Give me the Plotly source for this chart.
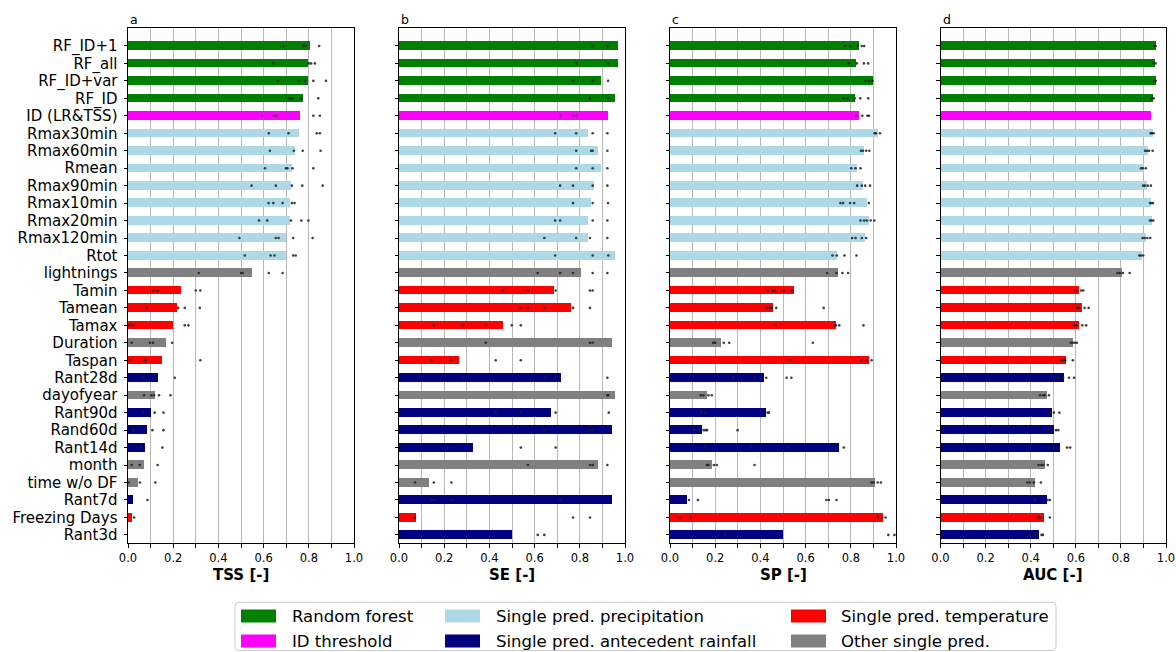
import plotly.graph_objects as go

categories = ["RF_ID+1", "RF_all", "RF_ID+var", "RF_ID", "ID (LR&TSS)", "Rmax30min", "Rmax60min",
              "Rmean", "Rmax90min", "Rmax10min", "Rmax20min", "Rmax120min", "Rtot", "lightnings",
              "Tamin", "Tamean", "Tamax", "Duration", "Taspan", "Rant28d", "dayofyear", "Rant90d",
              "Rand60d", "Rant14d", "month", "time w/o DF", "Rant7d", "Freezing Days", "Rant3d"]
groups = ["rf"] * 4 + ["id"] + ["prec"] * 8 + ["other", "temp", "temp", "temp", "other", "temp", "ante",
                                                "other", "ante", "ante", "ante", "other", "other", "ante",
                                                "temp", "ante"]
group_colors = {"rf": "#008000", "id": "#ff00ff", "prec": "#add8e6",
                "ante": "#000080", "temp": "#ff0000", "other": "#808080"}

tss = [0.805, 0.795, 0.795, 0.773, 0.762, 0.756, 0.740, 0.725, 0.722, 0.719, 0.715, 0.700, 0.697, 0.547,
       0.236, 0.219, 0.198, 0.167, 0.151, 0.131, 0.121, 0.100, 0.083, 0.075, 0.069, 0.043, 0.021, 0.016, 0.0]
se = [0.969, 0.969, 0.895, 0.954, 0.925, 0.835, 0.880, 0.895, 0.864, 0.849, 0.835, 0.835, 0.954, 0.805,
      0.687, 0.759, 0.462, 0.941, 0.267, 0.715, 0.954, 0.671, 0.941, 0.326, 0.880, 0.133, 0.941, 0.074, 0.499]
sp = [0.836, 0.825, 0.899, 0.817, 0.836, 0.919, 0.859, 0.827, 0.855, 0.870, 0.879, 0.865, 0.741, 0.743,
      0.549, 0.457, 0.734, 0.226, 0.880, 0.414, 0.164, 0.426, 0.142, 0.746, 0.188, 0.908, 0.077, 0.941, 0.499]
auc = [0.953, 0.951, 0.954, 0.942, 0.933, 0.938, 0.919, 0.899, 0.914, 0.933, 0.936, 0.910, 0.893, 0.803,
       0.611, 0.624, 0.612, 0.587, 0.553, 0.547, 0.469, 0.494, 0.499, 0.527, 0.460, 0.417, 0.469, 0.457, 0.435]

# individual (per-fold) results shown as small dots
tss_dots = [[0.688, 0.775, 0.785, 0.846], [0.643, 0.80, 0.81, 0.827], [0.662, 0.756, 0.784, 0.82, 0.876],
            [0.716, 0.728, 0.768, 0.842], [0.592, 0.645, 0.657, 0.82, 0.849], [0.623, 0.71, 0.835, 0.849],
            [0.628, 0.734, 0.773, 0.852], [0.606, 0.699, 0.705, 0.728, 0.82], [0.547, 0.654, 0.725, 0.771, 0.861],
            [0.622, 0.643, 0.684, 0.725, 0.737], [0.58, 0.616, 0.721, 0.767, 0.798],
            [0.493, 0.654, 0.666, 0.731, 0.817], [0.517, 0.631, 0.648, 0.731, 0.742],
            [0.313, 0.501, 0.507, 0.623, 0.684], [0.112, 0.129, 0.30, 0.32], [0.083, 0.222, 0.251, 0.318],
            [0.007, 0.021, 0.251, 0.267], [0.016, 0.097, 0.111, 0.195], [0.012, 0.071, 0.077, 0.32],
            [0.071, 0.207], [0.071, 0.103, 0.115, 0.137, 0.188], [0.069, 0.118, 0.157], [0.024, 0.108, 0.157],
            [0.058, 0.152], [0.016, 0.052, 0.131], [0.003, 0.053, 0.121], [0.086], [0.027], []]
se_dots = [[0.857, 0.922], [0.784, 0.925], [0.77, 0.857, 0.925], [0.845, 0.926], [0.713, 0.77, 0.784],
           [0.691, 0.784, 0.857, 0.922], [0.784, 0.85, 0.857, 0.922], [0.784, 0.857, 0.922],
           [0.713, 0.77, 0.857, 0.922], [0.77, 0.857, 0.925], [0.691, 0.713, 0.857, 0.922],
           [0.643, 0.784, 0.845, 0.922], [0.691, 0.857, 0.926], [0.614, 0.713, 0.77, 0.857, 0.922],
           [0.461, 0.570, 0.693, 0.845, 0.857], [0.539, 0.570, 0.643, 0.77, 0.845],
           [0.154, 0.284, 0.384, 0.499, 0.539], [0.384, 0.845, 0.857], [0.143, 0.232, 0.428, 0.539],
           [0.284, 0.643, 0.693, 0.922], [0.922, 0.926], [0.428, 0.539, 0.693, 0.928], [0.643, 0.845, 0.857],
           [0.214, 0.539, 0.693], [0.570, 0.845, 0.857, 0.922], [0.071, 0.154, 0.232],
           [0.143, 0.154, 0.232, 0.713], [0.071, 0.77, 0.845], [0.614, 0.643]]
sp_dots = [[0.774, 0.80, 0.831, 0.848, 0.859], [0.79, 0.827, 0.858, 0.877], [0.865, 0.880, 0.896],
           [0.768, 0.787, 0.817, 0.842, 0.877], [0.821, 0.851, 0.874, 0.880], [0.905, 0.911, 0.929],
           [0.845, 0.854, 0.868, 0.882], [0.802, 0.821, 0.843], [0.828, 0.849, 0.864, 0.885],
           [0.754, 0.766, 0.797, 0.815, 0.880], [0.843, 0.859, 0.871, 0.888, 0.904],
           [0.806, 0.821, 0.849, 0.868], [0.719, 0.738, 0.772, 0.825], [0.695, 0.737, 0.763, 0.788],
           [0.433, 0.454, 0.463, 0.503, 0.540], [0.430, 0.442, 0.450, 0.470, 0.680],
           [0.466, 0.726, 0.734, 0.749, 0.856], [0.191, 0.200, 0.238, 0.262, 0.632],
           [0.530, 0.846, 0.870, 0.892], [0.281, 0.377, 0.426, 0.516, 0.537], [0.136, 0.148, 0.170, 0.185],
           [0.139, 0.157, 0.432, 0.438], [0.108, 0.149, 0.157, 0.164, 0.299], [0.152, 0.361, 0.524, 0.769],
           [0.163, 0.170, 0.194, 0.207, 0.374], [0.892, 0.901, 0.919, 0.933],
           [0.084, 0.124, 0.692, 0.703, 0.737], [0.047, 0.092, 0.920, 0.939, 0.954], [0.244, 0.966, 0.993]]
auc_dots = [[0.948, 0.954], [0.945, 0.954], [0.948, 0.954], [0.936, 0.945], [],
            [0.932, 0.938, 0.945], [0.907, 0.916, 0.925, 0.941], [0.889, 0.898, 0.911],
            [0.899, 0.907, 0.919, 0.933], [0.929, 0.936, 0.942], [0.929, 0.936, 0.944],
            [0.896, 0.905, 0.917, 0.930], [0.882, 0.889, 0.899], [0.785, 0.796, 0.809, 0.839],
            [0.599, 0.624, 0.633], [0.604, 0.614, 0.639, 0.657], [0.593, 0.602, 0.629, 0.646],
            [0.578, 0.587, 0.596, 0.605], [0.537, 0.546, 0.553, 0.587], [0.512, 0.524, 0.544, 0.570, 0.592],
            [0.442, 0.456, 0.463, 0.481], [0.478, 0.487, 0.503, 0.527], [0.475, 0.512, 0.522],
            [0.479, 0.504, 0.561, 0.575], [0.435, 0.447, 0.456, 0.476], [0.385, 0.396, 0.414, 0.445],
            [0.419, 0.475, 0.485], [0.433, 0.442, 0.485], [0.396, 0.423, 0.448, 0.454]]

panel_letters = ["a", "b", "c", "d"]
axis_titles = ["TSS [-]", "SE [-]", "SP [-]", "AUC [-]"]
x_tick_values = [0.0, 0.1, 0.2, 0.3, 0.4, 0.5, 0.6, 0.7, 0.8, 0.9, 1.0]
x_tick_labels = ["0.0", "", "0.2", "", "0.4", "", "0.6", "", "0.8", "", "1.0"]

legend_labels = ["Random forest", "ID threshold", "Single pred. precipitation",
                 "Single pred. antecedent rainfall", "Single pred. temperature", "Other single pred."]
legend_groups = ["rf", "id", "prec", "ante", "temp", "other"]

W, H = 1176, 652
FONT = "DejaVu Sans"


def fx(px):
    return px / W


def fy(py):
    return 1 - py / H


panel_px = [(128, 354), (399, 625), (670, 896), (940.5, 1166)]
y_top_px, y_bot_px = 28.3, 543.3

fig = go.Figure()
values_all = [tss, se, sp, auc]
dots_all = [tss_dots, se_dots, sp_dots, auc_dots]
bar_colors = [group_colors[g] for g in groups]

for i in range(4):
    sfx = "" if i == 0 else str(i + 1)
    fig.add_trace(go.Bar(
        x=values_all[i], y=categories, orientation="h", width=0.5,
        marker=dict(color=bar_colors, line=dict(width=0)),
        xaxis="x" + sfx, yaxis="y" + sfx, showlegend=False, hoverinfo="x+y"))
    dx, dy = [], []
    for cat, d in zip(categories, dots_all[i]):
        for v in d:
            dx.append(v)
            dy.append(cat)
    fig.add_trace(go.Scatter(
        x=dx, y=dy, mode="markers", marker=dict(size=2.6, color="rgba(30,30,30,0.85)"),
        xaxis="x" + sfx, yaxis="y" + sfx, showlegend=False, hoverinfo="x+y"))

    x0, x1 = panel_px[i]
    fig.update_layout(**{
        "xaxis" + sfx: dict(
            domain=[fx(x0), fx(x1)], range=[0, 1], anchor="y" + sfx,
            tickmode="array", tickvals=x_tick_values, ticktext=x_tick_labels,
            ticks="outside", ticklen=3.5, tickwidth=0.8, tickcolor="black",
            showgrid=True, gridcolor="#b8b8b8", gridwidth=1, zeroline=False,
            showline=True, linecolor="black", linewidth=1, mirror=True,
            tickfont=dict(family=FONT, size=11.5, color="black"), automargin=False),
        "yaxis" + sfx: dict(
            domain=[fy(y_bot_px), fy(y_top_px)], anchor="x" + sfx, type="category",
            categoryorder="array", categoryarray=categories, range=[28.48, -1.01],
            tickmode="array", tickvals=categories, ticktext=categories,
            ticks="outside", ticklen=3.5, tickwidth=0.8, tickcolor="black", ticklabelstandoff=3,
            showticklabels=(i == 0), showgrid=False, zeroline=False,
            showline=True, linecolor="black", linewidth=1, mirror=True,
            tickfont=dict(family=FONT, size=15, color="black"), automargin=False),
    })
    fig.add_annotation(x=fx(x0), y=fy(19.3), xref="paper", yref="paper", text=panel_letters[i],
                       showarrow=False, xanchor="left", yanchor="middle",
                       font=dict(family=FONT, size=12.5, color="black"))
    fig.add_annotation(x=fx((x0 + x1) / 2), y=fy(575), xref="paper", yref="paper",
                       text="<b>" + axis_titles[i] + "</b>",
                       showarrow=False, xanchor="center", yanchor="middle",
                       font=dict(family=FONT, size=15, color="black"))

# legend box (rounded)
bx0, bx1, by0, by1, r = 235, 1056, 602.3, 650.5, 4
path = (f"M {fx(bx0 + r)},{fy(by0)} L {fx(bx1 - r)},{fy(by0)} Q {fx(bx1)},{fy(by0)} {fx(bx1)},{fy(by0 + r)} "
        f"L {fx(bx1)},{fy(by1 - r)} Q {fx(bx1)},{fy(by1)} {fx(bx1 - r)},{fy(by1)} "
        f"L {fx(bx0 + r)},{fy(by1)} Q {fx(bx0)},{fy(by1)} {fx(bx0)},{fy(by1 - r)} "
        f"L {fx(bx0)},{fy(by0 + r)} Q {fx(bx0)},{fy(by0)} {fx(bx0 + r)},{fy(by0)} Z")
fig.add_shape(type="path", path=path, xref="paper", yref="paper",
              line=dict(color="#cccccc", width=1), fillcolor="white")

col_patch_x = [241, 445, 791]
col_text_x = [289.5, 493.5, 839]
row_y = [616, 641]
for k, (lab, g) in enumerate(zip(legend_labels, legend_groups)):
    c, rrow = k // 2, k % 2
    fig.add_shape(type="rect", xref="paper", yref="paper",
                  x0=fx(col_patch_x[c]), x1=fx(col_patch_x[c] + 35),
                  y0=fy(row_y[rrow] - 6.5), y1=fy(row_y[rrow] + 6.5),
                  fillcolor=group_colors[g], line=dict(width=0))
    fig.add_annotation(x=fx(col_text_x[c]), y=fy(row_y[rrow]), xref="paper", yref="paper", text=lab,
                       showarrow=False, xanchor="left", yanchor="middle",
                       font=dict(family=FONT, size=16.5, color="black"))

fig.update_layout(width=W, height=H, margin=dict(l=0, r=0, t=0, b=0, pad=0),
                  template="none", paper_bgcolor="white", plot_bgcolor="white",
                  bargap=0, showlegend=False, font=dict(family=FONT, color="black"))

fig.write_html("out.html")
